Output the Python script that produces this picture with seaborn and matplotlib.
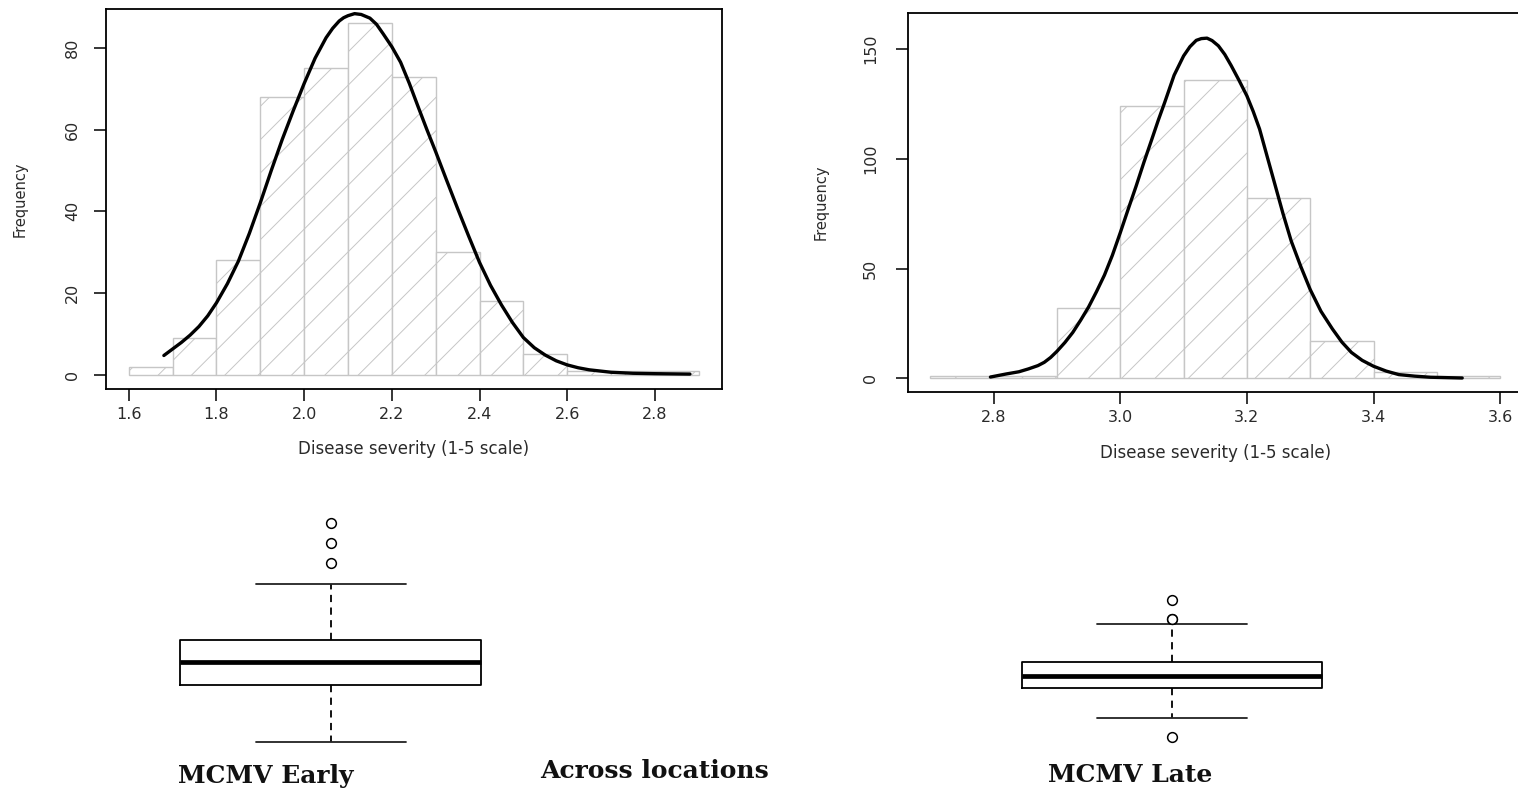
import matplotlib
matplotlib.use("Agg")
import matplotlib.pyplot as plt
import pandas as pd
import seaborn as sns

# ---- Early-season MCMV severity (histogram, 0.1-wide bins) ----
early_edges = [1.6, 1.7, 1.8, 1.9, 2.0, 2.1, 2.2, 2.3, 2.4, 2.5, 2.6, 2.7, 2.8, 2.9]
early_counts = [2, 9, 28, 68, 75, 86, 73, 30, 18, 5, 1, 1, 1]
early_curve_x = [1.68, 1.70, 1.72, 1.74, 1.76, 1.78, 1.80, 1.825, 1.85, 1.875,
                 1.90, 1.925, 1.95, 1.975, 2.00, 2.025, 2.05, 2.065, 2.08, 2.09,
                 2.10, 2.115, 2.13, 2.15, 2.165, 2.18, 2.20, 2.22, 2.24, 2.26,
                 2.28, 2.30, 2.325, 2.35, 2.375, 2.40, 2.425, 2.45, 2.475, 2.50,
                 2.525, 2.55, 2.575, 2.60, 2.625, 2.65, 2.70, 2.75, 2.80, 2.88]
early_curve_y = [4.7, 6.3, 7.9, 9.7, 11.8, 14.4, 17.6, 22.3, 27.8, 34.6,
                 42.1, 50.0, 57.6, 64.6, 71.3, 77.5, 82.5, 84.8, 86.6, 87.4,
                 87.9, 88.4, 88.2, 87.3, 85.8, 83.5, 80.3, 76.5, 71.3, 65.6,
                 60.0, 54.6, 47.6, 40.7, 34.0, 27.5, 21.9, 17.1, 12.8, 9.1,
                 6.6, 4.8, 3.4, 2.4, 1.7, 1.2, 0.6, 0.35, 0.25, 0.15]
early_xticks = [1.6, 1.8, 2.0, 2.2, 2.4, 2.6, 2.8]
early_yticks = [0, 20, 40, 60, 80]

# ---- Late-season MCMV severity ----
late_edges = [2.7, 2.8, 2.9, 3.0, 3.1, 3.2, 3.3, 3.4, 3.5, 3.6]
late_counts = [1, 1, 32, 124, 136, 82, 17, 3, 1]
late_curve_x = [2.795, 2.82, 2.84, 2.855, 2.87, 2.88, 2.89, 2.90, 2.9125, 2.925,
                2.9375, 2.95, 2.9625, 2.975, 2.9875, 3.00, 3.0125, 3.025, 3.0375, 3.05,
                3.06, 3.07, 3.085, 3.10, 3.11, 3.12, 3.128, 3.137, 3.145, 3.155,
                3.165, 3.175, 3.187, 3.20, 3.21, 3.22, 3.232, 3.245, 3.257, 3.27,
                3.285, 3.30, 3.317, 3.335, 3.35, 3.365, 3.382, 3.40, 3.42, 3.44,
                3.465, 3.49, 3.54]
late_curve_y = [0.6, 2.0, 3.0, 4.3, 5.8, 7.3, 9.5, 12.3, 16.3, 20.9,
                26.5, 32.5, 39.5, 47.0, 56.0, 66.3, 77.0, 87.5, 98.5, 109.0,
                117.5, 125.5, 138.0, 146.8, 151.0, 153.9, 154.7, 154.9, 153.8, 151.4,
                147.5, 142.5, 136.0, 128.6, 121.5, 113.5, 101.0, 87.5, 75.0, 62.5,
                51.0, 40.4, 30.5, 22.5, 16.5, 11.8, 8.2, 5.5, 3.3, 1.7,
                1.0, 0.5, 0.15]
late_xticks = [2.8, 3.0, 3.2, 3.4, 3.6]
late_yticks = [0, 50, 100, 150]

# ---- Box-plot summaries (whisker low, Q1, median, Q3, whisker high, outliers) ----
early_box = [1.669, 1.988, 2.119, 2.240, 2.554]
early_outliers = [2.671, 2.783, 2.896]
late_box = [2.868, 3.052, 3.125, 3.205, 3.434]
late_outliers = [2.753, 3.464, 3.468, 3.580]

box_labels = ["MCMV Early", "Across locations", "MCMV Late"]
xlab = "Disease severity (1-5 scale)"
ylab = "Frequency"

sns.set_theme(style="white")
plt.rcParams["font.family"] = ["DejaVu Sans"]
plt.rcParams["hatch.linewidth"] = 0.7

W, H = 1518, 793
fig = plt.figure(figsize=(W / 100, H / 100), dpi=100)
fig.patch.set_facecolor("white")


def rect(x0, y0, x1, y1):
    return [x0 / W, 1 - y1 / H, (x1 - x0) / W, (y1 - y0) / H]


def hist_panel(ax, edges, counts, cx, cy, xticks, yticks, xlim, ylim, ypad, ylab_x):
    centers = [(a + b) / 2 for a, b in zip(edges[:-1], edges[1:])]
    df = pd.DataFrame({"severity": centers, "count": counts})
    sns.histplot(data=df, x="severity", weights="count", bins=edges, ax=ax,
                 stat="count", element="bars", fill=True, color="white",
                 edgecolor="#c6c6c6", linewidth=1.0, hatch="/", alpha=1.0)
    sns.lineplot(x=cx, y=cy, ax=ax, color="black", linewidth=2.4)
    ax.set_xlim(*xlim)
    ax.set_ylim(*ylim)
    ax.set_xticks(xticks)
    ax.set_xticklabels([f"{t:.1f}" for t in xticks])
    ax.set_yticks(yticks)
    ax.set_yticklabels([str(t) for t in yticks], rotation=90, va="center")
    ax.tick_params(axis="both", direction="out", length=8.3, width=1.1,
                   color="black", labelsize=11.5, labelcolor="#2a2a2a",
                   left=True, bottom=True)
    ax.tick_params(axis="x", pad=4.5)
    ax.tick_params(axis="y", pad=ypad)
    for s in ax.spines.values():
        s.set_visible(True)
        s.set_color("black")
        s.set_linewidth(1.3)
    ax.set_xlabel(xlab, fontsize=12, color="#2a2a2a")
    ax.set_ylabel(ylab, fontsize=10.5, color="#2a2a2a")
    ax.xaxis.set_label_coords(0.5, -0.136)
    ax.yaxis.set_label_coords(ylab_x, 0.5)
    ax.grid(False)


ax1 = fig.add_axes(rect(106, 9.4, 721.5, 388.75))
hist_panel(ax1, early_edges, early_counts, early_curve_x, early_curve_y,
           early_xticks, early_yticks, (1.548, 2.952), (-3.44, 89.44), 10.5, -0.128)

ax2 = fig.add_axes(rect(907.5, 12.9, 1523, 392.4))
hist_panel(ax2, late_edges, late_counts, late_curve_x, late_curve_y,
           late_xticks, late_yticks, (2.664, 3.636), (-6.4, 166.4), 13, -0.128)


def box_panel(ax, five, outliers, ylim):
    stats = [{"whislo": five[0], "q1": five[1], "med": five[2], "q3": five[3],
              "whishi": five[4], "fliers": outliers}]
    ax.bxp(stats, positions=[0], widths=[1.0], capwidths=[0.5], showfliers=True,
           boxprops=dict(color="black", linewidth=1.3),
           medianprops=dict(color="black", linewidth=3.4),
           whiskerprops=dict(color="black", linewidth=1.3, linestyle=(0, (4, 3))),
           capprops=dict(color="#222222", linewidth=1.3),
           flierprops=dict(marker="o", markersize=7, markerfacecolor="white",
                           markeredgecolor="black", markeredgewidth=1.1))
    ax.set_xlim(-0.6, 0.6)
    ax.set_ylim(*ylim)
    ax.axis("off")


ax3 = fig.add_axes(rect(150.5, 500, 510.5, 760))
box_panel(ax3, early_box, early_outliers, (1.568, 3.024))

ax4 = fig.add_axes(rect(991.5, 500, 1351.5, 760))
box_panel(ax4, late_box, late_outliers, (2.6165, 4.1828))

label_font = dict(family=["DejaVu Serif"], fontweight="bold", fontsize=18,
                  color="#111111", ha="center", va="baseline")
fig.text(266 / W, 1 - 783 / H, box_labels[0], **label_font)
fig.text(654 / W, 1 - 778 / H, box_labels[1], **label_font)
fig.text(1130 / W, 1 - 782 / H, box_labels[2], **label_font)

fig.savefig("out.png", dpi=100, facecolor="white")
